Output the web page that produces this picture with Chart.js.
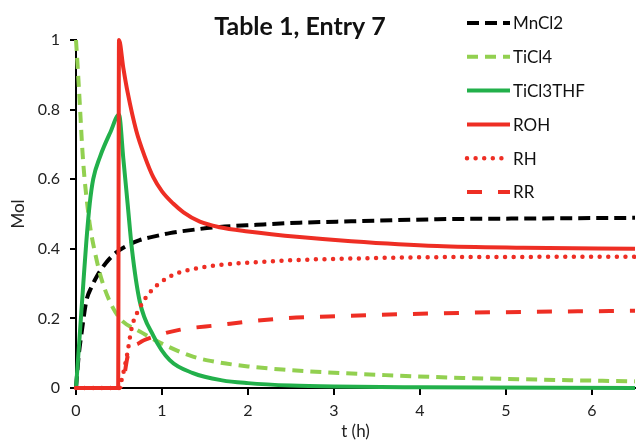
<!DOCTYPE html>
<html>
<head>
<meta charset="utf-8">
<script src="https://cdn.jsdelivr.net/npm/chart.js@4/dist/chart.umd.min.js"></script>
<style>
  html, body { margin: 0; padding: 0; background: #fff; }
  #wrap { width: 636px; height: 442px; position: relative; }
</style>
</head>
<body>
<div id="wrap"><canvas id="c"></canvas></div>
<script>
const chartTitle = "Table 1, Entry 7";
const seriesNames = ["MnCl2", "TiCl4", "TiCl3THF", "ROH", "RH", "RR"];
const xTicks = [0, 1, 2, 3, 4, 5, 6];
const yTicks = [0, 0.2, 0.4, 0.6, 0.8, 1];

// time (h) and mol
const tMn = [0, 0.03, 0.066, 0.12, 0.18, 0.24, 0.35, 0.47, 0.6, 0.74, 0.9, 1.09, 1.44, 1.67, 2.1, 2.6, 3.2, 4.2, 5.2, 6.5];
const mnCl2 = [0, 0.09, 0.16, 0.25, 0.29, 0.32, 0.36, 0.39, 0.41, 0.425, 0.435, 0.445, 0.457, 0.463, 0.469, 0.475, 0.479, 0.485, 0.487, 0.489];

const tTi4 = [0, 0.025, 0.05, 0.075, 0.1, 0.13, 0.16, 0.22, 0.3, 0.43, 0.55, 0.71, 0.98, 1.36, 1.63, 2, 2.4, 3, 3.6, 4.5, 5.4, 6.5];
const ticl4 = [1, 0.9, 0.79, 0.68, 0.6, 0.53, 0.47, 0.39, 0.31, 0.23, 0.19, 0.167, 0.13, 0.09, 0.075, 0.062, 0.053, 0.044, 0.037, 0.029, 0.024, 0.019];

const tTi3 = [0, 0.04, 0.085, 0.12, 0.16, 0.2, 0.28, 0.4, 0.5, 0.55, 0.6, 0.65, 0.74, 0.9, 1.09, 1.36, 1.7, 2, 2.5, 3, 4, 6.5];
const ticl3thf = [0, 0.14, 0.3, 0.42, 0.53, 0.6, 0.665, 0.735, 0.785, 0.66, 0.53, 0.4, 0.25, 0.15, 0.08, 0.043, 0.022, 0.014, 0.007, 0.004, 0.002, 0];

const tRoh = [0, 0.49, 0.5, 0.55, 0.6, 0.7, 0.8, 0.9, 1, 1.13, 1.25, 1.44, 1.67, 2, 2.6, 3.2, 4.2, 5.2, 6.5];
const roh = [0, 0, 1, 0.92, 0.85, 0.74, 0.665, 0.605, 0.565, 0.53, 0.505, 0.478, 0.462, 0.45, 0.434, 0.422, 0.408, 0.403, 0.4];

const tRh = [0, 0.5, 0.53, 0.59, 0.65, 0.74, 0.86, 1.09, 1.5, 2, 2.6, 3.2, 4.2, 6.5];
const rh = [0, 0, 0.023, 0.09, 0.175, 0.23, 0.275, 0.32, 0.348, 0.36, 0.368, 0.372, 0.376, 0.377];

const tRr = [0, 0.5, 0.55, 0.6, 0.74, 0.9, 1.2, 1.63, 2.4, 3.1, 4.5, 6.5];
const rr = [0, 0, 0.02, 0.09, 0.13, 0.147, 0.167, 0.18, 0.2, 0.207, 0.216, 0.222];

const RED = "#ee2e24";
const FONT = "Lato";

const pts = (ts, ys) => ts.map((t, i) => ({ x: t, y: ys[i] }));

const styles = [
  { color: "#000000", dash: [12, 6], cap: "butt" },
  { color: "#92d050", dash: [11, 7], cap: "butt" },
  { color: "#22b04b", dash: [], cap: "butt" },
  { color: RED, dash: [], cap: "butt" },
  { color: RED, dash: [0, 8.6], cap: "round" },
  { color: RED, dash: [15, 16], cap: "butt" },
];
const values = [pts(tMn, mnCl2), pts(tTi4, ticl4), pts(tTi3, ticl3thf), pts(tRoh, roh), pts(tRh, rh), pts(tRr, rr)];

const datasets = seriesNames.map((name, i) => ({
  label: name,
  data: values[i],
  borderColor: styles[i].color,
  borderDash: styles[i].dash,
  borderCapStyle: styles[i].cap,
  borderWidth: i === 4 ? 4.5 : 4,
  pointRadius: 0,
  cubicInterpolationMode: "monotone",
  clip: false,
  order: seriesNames.length - i, // later series on top, like Excel
}));

// title + legend drawn on the canvas
const extras = {
  id: "extras",
  afterDraw(chart) {
    const ctx = chart.ctx;
    ctx.save();
    ctx.fillStyle = "#111";
    ctx.font = `bold 25px ${FONT}`;
    ctx.textAlign = "center";
    ctx.textBaseline = "middle";
    ctx.fillText(chartTitle, 300, 27);

    ctx.font = `17px ${FONT}`;
    ctx.textAlign = "left";
    datasets.forEach((ds, i) => {
      const y = 23 + i * 33.8;
      ctx.beginPath();
      ctx.strokeStyle = ds.borderColor;
      ctx.lineWidth = ds.borderWidth;
      ctx.lineCap = ds.borderCapStyle;
      ctx.setLineDash(ds.borderDash);
      ctx.moveTo(467, y);
      ctx.lineTo(510, y);
      ctx.stroke();
      ctx.setLineDash([]);
      ctx.fillStyle = "#111";
      ctx.fillText(ds.label, 513, y + 1);
    });
    ctx.restore();
  },
};

new Chart(document.getElementById("c"), {
  type: "line",
  data: { datasets },
  options: {
    responsive: true,
    maintainAspectRatio: false,
    animation: false,
    layout: { padding: { top: 40, right: 1, left: 0, bottom: 0 } },
    plugins: {
      legend: { display: false },
      tooltip: { enabled: false },
    },
    scales: {
      x: {
        type: "linear",
        min: 0,
        max: 6.5,
        afterFit: s => { s.height = 54; },
        afterBuildTicks: s => { s.ticks = xTicks.map(v => ({ value: v })); },
        grid: { drawOnChartArea: false, drawTicks: true, tickLength: 7, color: "#000", lineWidth: 2 },
        border: { color: "#000", width: 2 },
        ticks: { padding: 6, color: "#222", font: { family: FONT, size: 16 } },
        title: { display: true, text: "t (h)", color: "#222", font: { family: FONT, size: 17 }, padding: { top: 0, bottom: 0 } },
      },
      y: {
        min: 0,
        max: 1,
        afterFit: s => { s.width = 76; },
        afterBuildTicks: s => { s.ticks = yTicks.map(v => ({ value: v })); },
        grid: { drawOnChartArea: false, drawTicks: true, tickLength: 6, color: "#000", lineWidth: 2 },
        border: { color: "#000", width: 2 },
        ticks: { padding: 10, color: "#222", font: { family: FONT, size: 16 }, callback: v => String(+v.toFixed(1)) },
        title: { display: true, text: "Mol", color: "#222", font: { family: FONT, size: 17 }, padding: { top: 8, bottom: 0 } },
      },
    },
  },
  plugins: [extras],
});
</script>
</body>
</html>
